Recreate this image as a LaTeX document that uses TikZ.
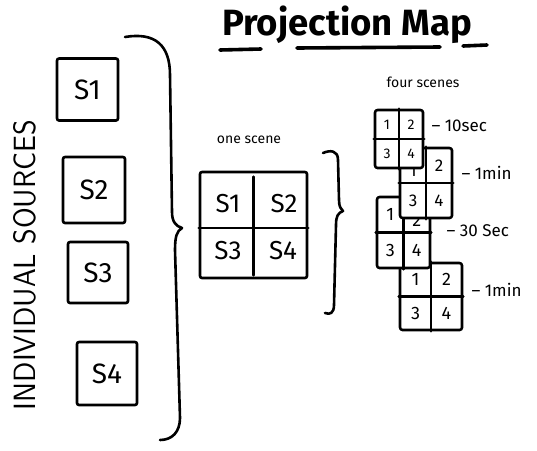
\documentclass[tikz,border=0pt]{standalone}
\usepackage{fontspec}
\setmainfont{Fira Sans}
\usepackage{graphicx}
\newcommand\mgrid[8]{%
  \node[draw, ink, fill=white, minimum width=#4pt, minimum height=#5pt, inner sep=0pt, rounded corners=2.5pt] (#1) at (#2,#3) {};
  \draw[ink] (#1.north) -- (#1.south);
  \draw[ink] (#1.west) -- (#1.east);
  \node[inner sep=0pt, font=\fontsize{#6}{#6}\selectfont] (#1a) at (#2-#4/4,#3+#5/4+#7) {1};
  \node[inner sep=0pt, font=\fontsize{#6}{#6}\selectfont] (#1b) at (#2+#4/4,#3+#5/4+#8) {2};
  \node[inner sep=0pt, font=\fontsize{#6}{#6}\selectfont] (#1c) at (#2-#4/4,#3-#5/4) {3};
  \node[inner sep=0pt, font=\fontsize{#6}{#6}\selectfont] (#1d) at (#2+#4/4,#3-#5/4) {4};
}
\begin{document}
\begin{tikzpicture}[x=1pt,y=1pt,
  ink/.style={line width=2.6pt, line cap=round, line join=round},
  srcbox/.style={draw, ink, inner sep=0pt, rounded corners=2pt, font=\fontsize{28}{30}\selectfont},
  bigS/.style={font=\fontsize{26}{28}\selectfont},
  hand/.style={font=\fontsize{14}{16}\selectfont},
  timelbl/.style={anchor=west, font=\fontsize{17}{19}\selectfont}]
\useasboundingbox (0,0) rectangle (537,-450);

% title
\node[anchor=north west, inner sep=0pt] (title) at (222,-6) {\resizebox{250pt}{!}{\bfseries Projection Map}};
\draw[ink, line width=3.6pt] (220,-50) -- (261,-49);
\draw[ink, line width=3.6pt] (297,-48) -- (440,-47);
\draw[ink, line width=3.6pt] (463,-46) -- (487,-45);

% vertical label
\node[rotate=90, inner sep=0pt] (lbl) at (25,-265) {\resizebox{290pt}{22pt}{\sffamily INDIVIDUAL SOURCES}};

% sources
\node[srcbox, minimum width=61pt, minimum height=62pt] (s1) at (87.5,-89.5) {S1};
\node[srcbox, minimum width=62pt, minimum height=66pt] (s2) at (94,-190) {S2};
\node[srcbox, minimum width=60pt, minimum height=61pt] (s3) at (98,-272.5) {S3};
\node[srcbox, minimum width=60pt, minimum height=63pt] (s4) at (107,-373.5) {S4};

% big brace
\draw[ink] (125,-37) .. controls (155,-32) and (170,-45) .. (170,-75) -- (172,-212)
  .. controls (172,-222) and (176,-226) .. (182,-228)
  .. controls (177,-231) and (175,-236) .. (175,-250) -- (180,-418)
  .. controls (180,-432) and (172,-440) .. (160,-440);

% one scene
\node[hand] (onelbl) at (249,-140) {one scene};
\node[draw, ink, inner sep=0pt, minimum width=107pt, minimum height=106pt, rounded corners=2pt] (scene) at (253.5,-225) {};
\draw[ink] ([yshift=-6pt]scene.north) -- ([yshift=4pt]scene.south);
\draw[ink] ([yshift=-3pt]scene.west) -- ([yshift=-3pt]scene.east);
\node[bigS] (q1) at (228,-204) {S1};
\node[bigS] (q2) at (284,-204) {S2};
\node[bigS] (q3) at (228,-251) {S3};
\node[bigS] (q4) at (283,-251) {S4};

% small brace
\draw[ink] (323,-153) .. controls (330,-150) and (338,-150) .. (338,-160) -- (339,-200)
  .. controls (339,-207) and (341,-209) .. (343,-211)
  .. controls (338,-213) and (336,-216) .. (336,-225) -- (334,-305)
  .. controls (334,-313) and (330,-315) .. (325,-313);

% four scenes
\node[hand] (fourlbl) at (423,-82) {four scenes};
\mgrid{g4}{431}{-296.5}{62}{67}{18}{0}{0}
\mgrid{g3}{403.5}{-232.5}{53}{71}{18}{0}{-6}
\mgrid{g2}{426}{-183}{52}{70}{17}{-5}{0}
\mgrid{g1}{399}{-139}{48}{58}{14}{0}{0}

\node[timelbl] (t1) at (428,-126) {– 10sec};
\node[timelbl] (t2) at (458,-173) {– 1min};
\node[timelbl] (t3) at (443,-231) {– 30 Sec};
\node[timelbl] (t4) at (468,-290) {– 1min};
\end{tikzpicture}
\end{document}
